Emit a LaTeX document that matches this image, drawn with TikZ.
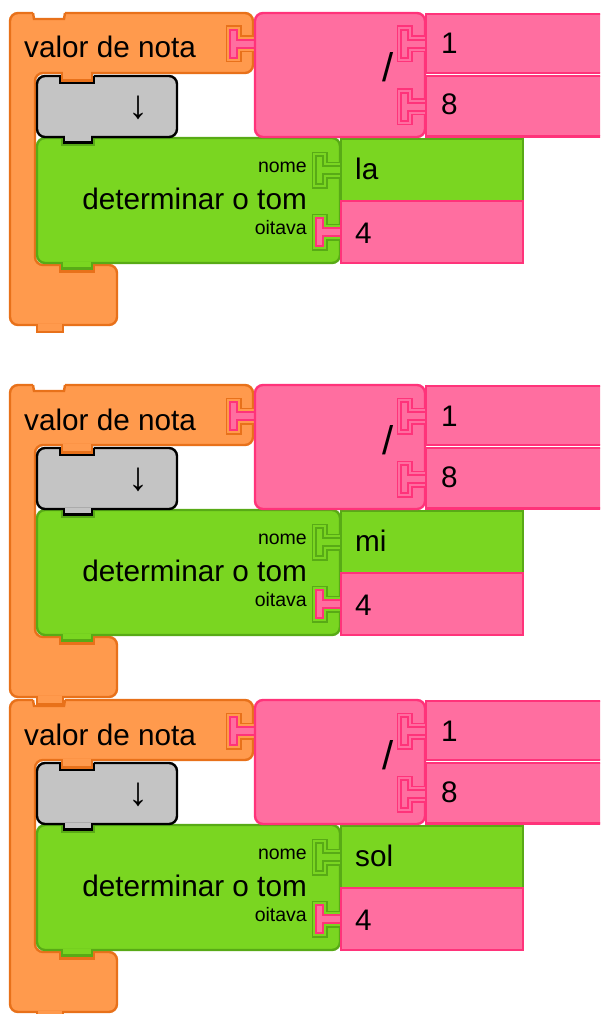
\documentclass[tikz,border=0pt]{standalone}
\usepackage{fontspec}
\setmainfont{Liberation Sans}
\definecolor{notaFill}{RGB}{255,154,77}
\definecolor{notaLine}{RGB}{232,113,26}
\definecolor{divFill}{RGB}{255,110,160}
\definecolor{divLine}{RGB}{255,51,122}
\definecolor{tomFill}{RGB}{122,214,33}
\definecolor{tomLine}{RGB}{88,170,22}
\definecolor{setaFill}{RGB}{196,196,196}
\definecolor{setaLine}{RGB}{0,0,0}
\newcommand{\BigTxt}{\fontsize{29.7}{32}\selectfont}
\newcommand{\SmallTxt}{\fontsize{19.5}{21}\selectfont}
\newcommand{\SlashTxt}{\fontsize{40}{42}\selectfont}
\newcommand{\ArrowTxt}{\fontsize{40}{42}\selectfont}

% socket of the parent (#3) with the output tab of the plugged block (#4)
% #1,#2 = left edge and top of the plugged block
\newcommand{\InputTab}[4]{%
  \draw[#3Line, line width=9] (#1+2,#2+27) -- (#1-18,#2+27) -- (#1-18,#2+17) -- (#1-25,#2+17)
        -- (#1-25,#2+45) -- (#1-18,#2+45) -- (#1-18,#2+35) -- (#1+2,#2+35);
  \draw[#3Fill, line width=5.5] (#1+2,#2+27) -- (#1-18,#2+27) -- (#1-18,#2+17) -- (#1-25,#2+17)
        -- (#1-25,#2+45) -- (#1-18,#2+45) -- (#1-18,#2+35) -- (#1+2,#2+35);
  \filldraw[fill=#4Fill, draw=#4Line, line width=2] (#1+2,#2+27) -- (#1-18,#2+27) -- (#1-18,#2+17) -- (#1-25,#2+17)
        -- (#1-25,#2+45) -- (#1-18,#2+45) -- (#1-18,#2+35) -- (#1+2,#2+35);
}

% one "valor de nota" stack; #1 = top, #2 = note name
\newcommand{\NotaBlock}[2]{%
  % c-shaped body
  \draw[nota, rounded corners=8] (10,#1) -- (253,#1) -- (253,#1+60) -- (35,#1+60) -- (35,#1+252)
        -- (117,#1+252) -- (117,#1+312) -- (10,#1+312) -- cycle;
  \fill[white] (33,#1-2) rectangle (65,#1+6);
  \draw[notaLine, line width=2.4] (33,#1) -- (34,#1+6) -- (64,#1+6) -- (65,#1);
  \fill[notaFill] (38,#1+310.5) rectangle (62,#1+319);
  \draw[notaLine, line width=2.4] (37,#1+312) -- (37,#1+319) -- (63,#1+319) -- (63,#1+312);
  \node[big, anchor=base west] (valor-#2) at (24,#1+45) {valor de nota};
  % determinar o tom
  \draw[notaLine, line width=2.4] (60,#1+252) -- (60,#1+258.5) -- (94,#1+258.5) -- (94,#1+252);
  \draw[tom, rounded corners=8] (37,#1+125) rectangle (340,#1+250);
  \fill[tomFill] (63,#1+248.5) rectangle (91,#1+255.5);
  \draw[tomLine, line width=2.4] (62,#1+250) -- (62,#1+255.5) -- (92,#1+255.5) -- (92,#1+250);
  \draw[tomLine, line width=2.4] (62,#1+125) -- (62,#1+131.5) -- (94,#1+131.5) -- (94,#1+125);
  % arrow block
  \draw[seta, rounded corners=8] (37,#1+63) rectangle (177,#1+124);
  \fill[setaFill] (65,#1+122.5) rectangle (91,#1+129.5);
  \draw[setaLine, line width=2.4] (64,#1+124) -- (64,#1+129.5) -- (92,#1+129.5) -- (92,#1+124);
  \fill[setaFill] (60.5,#1+61.5) rectangle (93.5,#1+70);
  \fill[notaFill] (63,#1+58.5) rectangle (91,#1+67.5);
  \draw[notaLine, line width=2.4] (62,#1+60) -- (62,#1+67.5) -- (92,#1+67.5) -- (92,#1+60);
  \draw[setaLine, line width=2.4] (60,#1+63) -- (60,#1+70) -- (94,#1+70) -- (94,#1+63);
  \node[inner sep=0, font=\ArrowTxt] (seta-#2) at (138,#1+95) {↓};
  \node[big, anchor=base east] (tom-#2) at (307,#1+196) {determinar o tom};
  \node[small, anchor=base east] (nome-#2) at (307,#1+159) {nome};
  \node[small, anchor=base east] (oitava-#2) at (307,#1+221) {oitava};
  \InputTab{341}{#1+126}{tom}{tom}
  \draw[tom] (341,#1+126) rectangle (523,#1+188);
  \InputTab{341}{#1+188}{tom}{div}
  \draw[div] (341,#1+188) rectangle (523,#1+250);
  \node[big, anchor=base west] (nomeval-#2) at (355,#1+166) {#2};
  \node[big, anchor=base west] (oitavaval-#2) at (355,#1+230) {4};
  % 1 / 8
  \InputTab{255}{#1}{nota}{div}
  \draw[div, rounded corners=8] (255,#1) rectangle (425,#1+124);
  \node[slash, anchor=base] (div-#2) at (388,#1+69) {/};
  \InputTab{426}{#1}{div}{div}
  \draw[div] (426,#1+1) rectangle (620,#1+60);
  \InputTab{426}{#1+63}{div}{div}
  \draw[div] (426,#1+63) rectangle (620,#1+123.5);
  \node[big, anchor=base west] (um-#2) at (441,#1+41) {1};
  \node[big, anchor=base west] (oito-#2) at (441,#1+102) {8};
}

\begin{document}
\begin{tikzpicture}[x=1pt, y=-1pt,
    nota/.style={fill=notaFill, draw=notaLine, line width=2.4},
    div/.style={fill=divFill, draw=divLine, line width=2.4},
    tom/.style={fill=tomFill, draw=tomLine, line width=2.4},
    seta/.style={fill=setaFill, draw=setaLine, line width=2.4},
    big/.style={inner sep=0, font=\BigTxt},
    small/.style={inner sep=0, font=\SmallTxt},
    slash/.style={inner sep=0, font=\SlashTxt}]
  \useasboundingbox (0,0) rectangle (600,1014);
  \clip (0,0) rectangle (600,1014);

  % lowest stack first, so the tab above sits in its notch
  \NotaBlock{700}{sol}
  \NotaBlock{385}{mi}
  \NotaBlock{13}{la}
\end{tikzpicture}
\end{document}
